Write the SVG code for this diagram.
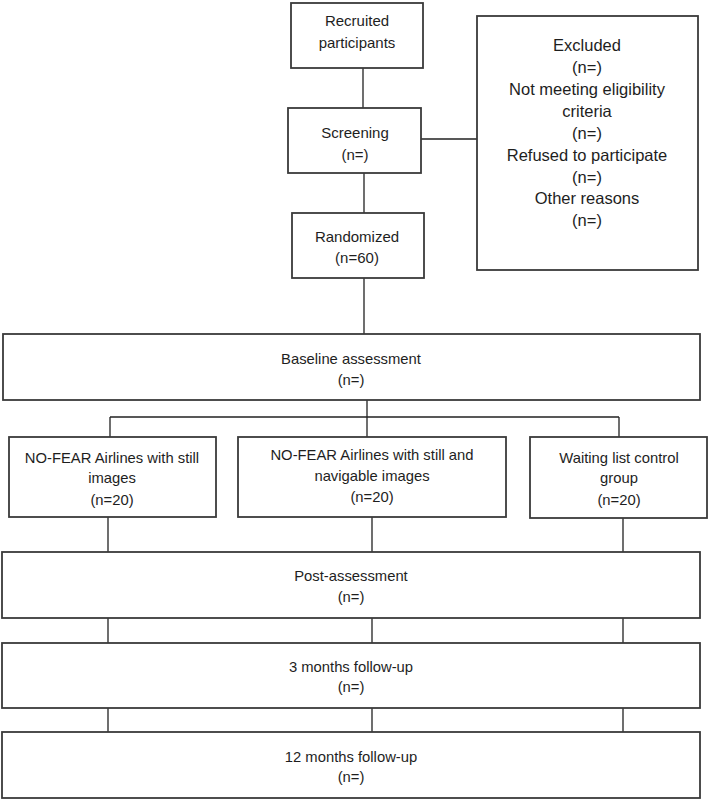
<svg xmlns="http://www.w3.org/2000/svg" width="711" height="801" viewBox="0 0 711 801">
<style>
.box{fill:#fff;stroke:#3a3a3a;stroke-width:1.8}
.t{font-family:"Liberation Sans",Arial,sans-serif;font-size:14.8px;fill:#1e1e1e;text-anchor:middle}
.s{font-size:15px}
.x{font-size:16.5px}
.c{stroke:#222;stroke-width:1.3;fill:none}
</style>
<rect width="711" height="801" fill="#fff"/>
<g id="connectors">
<path class="c" d="M363 68V108M364 173V213M421 139H477M364 278V334"/>
<path class="c" d="M367 400V417M110 417H619M110 417V437M367 417V437M619 417V437"/>
<path class="c" d="M108 517V552M372 517V552M623 518V552"/>
<path class="c" d="M108 618V643M372 618V643M623 618V643"/>
<path class="c" d="M108 708V732M372 708V732M623 708V732"/>
</g>
<g id="recruited">
<rect class="box" x="291" y="3" width="132" height="65"/>
<text class="t s" x="357" y="26">Recruited</text>
<text class="t s" x="357" y="48">participants</text>
</g>
<g id="screening">
<rect class="box" x="288" y="108" width="133" height="65"/>
<text class="t s" x="355" y="138">Screening</text>
<text class="t s" x="355" y="160">(n=)</text>
</g>
<g id="randomized">
<rect class="box" x="292" y="213" width="132" height="65"/>
<text class="t s" x="357" y="242">Randomized</text>
<text class="t s" x="357" y="263">(n=60)</text>
</g>
<g id="excluded">
<rect class="box" x="477" y="16" width="221" height="254"/>
<text class="t x" x="587" y="51">Excluded</text>
<text class="t x" x="587" y="73">(n=)</text>
<text class="t x" x="587" y="95">Not meeting eligibility</text>
<text class="t x" x="587" y="117">criteria</text>
<text class="t x" x="587" y="139">(n=)</text>
<text class="t x" x="587" y="161">Refused to participate</text>
<text class="t x" x="587" y="183">(n=)</text>
<text class="t x" x="587" y="204">Other reasons</text>
<text class="t x" x="587" y="226">(n=)</text>
</g>
<g id="baseline">
<rect class="box" x="3" y="334" width="697" height="66"/>
<text class="t" x="351" y="364">Baseline assessment</text>
<text class="t" x="351" y="385">(n=)</text>
</g>
<g id="group1">
<rect class="box" x="9" y="437" width="207" height="80"/>
<text class="t" x="112" y="463">NO-FEAR Airlines with still</text>
<text class="t" x="112" y="483">images</text>
<text class="t" x="112" y="505">(n=20)</text>
</g>
<g id="group2">
<rect class="box" x="238" y="437" width="268" height="80"/>
<text class="t" x="372" y="460">NO-FEAR Airlines with still and</text>
<text class="t" x="372" y="481">navigable images</text>
<text class="t" x="372" y="502">(n=20)</text>
</g>
<g id="group3">
<rect class="box" x="530" y="437" width="177" height="81"/>
<text class="t" x="619" y="463">Waiting list control</text>
<text class="t" x="619" y="483">group</text>
<text class="t" x="619" y="505">(n=20)</text>
</g>
<g id="post">
<rect class="box" x="2" y="552" width="698" height="66"/>
<text class="t" x="351" y="581">Post-assessment</text>
<text class="t" x="351" y="602">(n=)</text>
</g>
<g id="followup3">
<rect class="box" x="2" y="643" width="698" height="65"/>
<text class="t" x="351" y="672">3 months follow-up</text>
<text class="t" x="351" y="692">(n=)</text>
</g>
<g id="followup12">
<rect class="box" x="2" y="732" width="698" height="66"/>
<text class="t" x="351" y="762">12 months follow-up</text>
<text class="t" x="351" y="782">(n=)</text>
</g>
</svg>
